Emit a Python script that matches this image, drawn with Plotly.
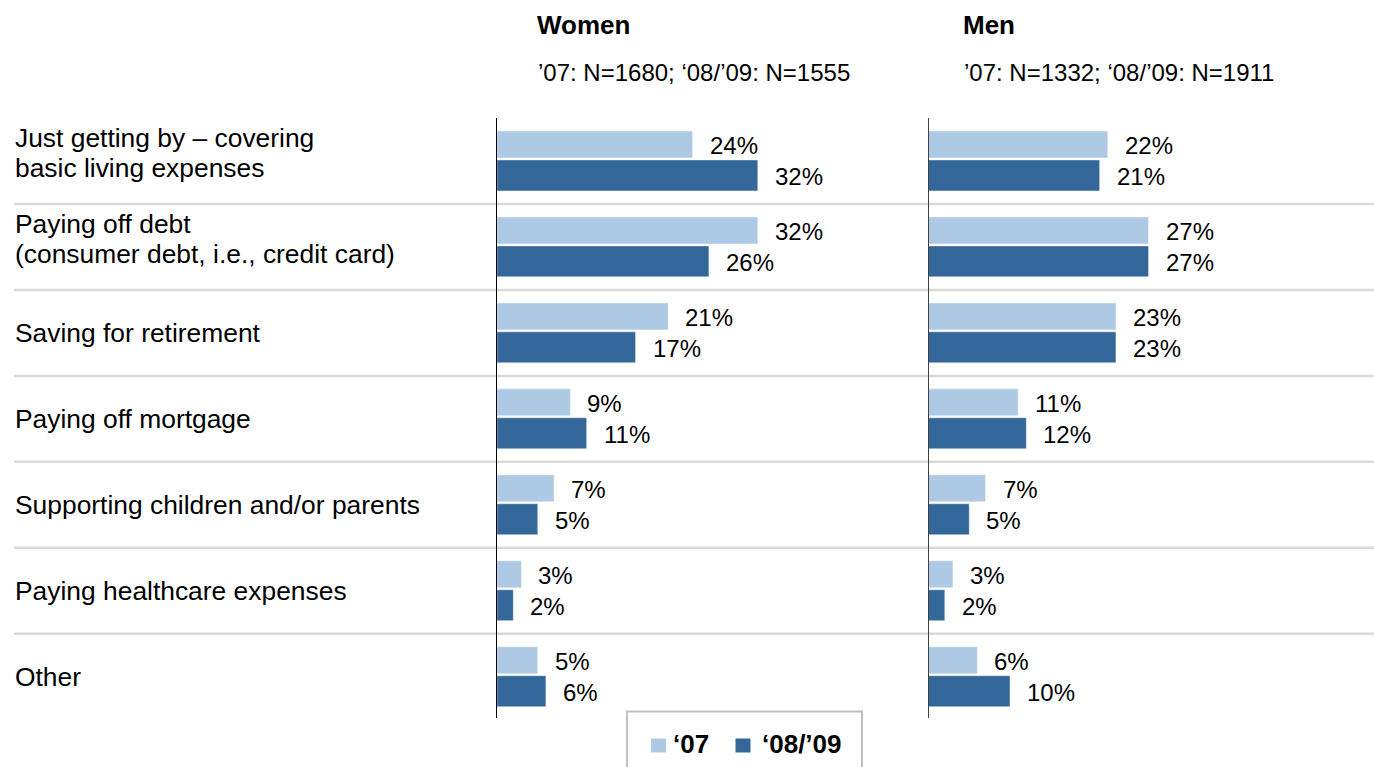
import plotly.graph_objects as go

# ---- data -------------------------------------------------------------
categories = [
    "Just getting by – covering<br>basic living expenses",
    "Paying off debt<br>(consumer debt, i.e., credit card)",
    "Saving for retirement",
    "Paying off mortgage",
    "Supporting children and/or parents",
    "Paying healthcare expenses",
    "Other",
]
series_names = ["‘07", "‘08/’09"]
women_07 = [24, 32, 21, 9, 7, 3, 5]
women_0809 = [32, 26, 17, 11, 5, 2, 6]
men_07 = [22, 27, 23, 11, 7, 3, 6]
men_0809 = [21, 27, 23, 12, 5, 2, 10]
panel_titles = ["Women", "Men"]
panel_notes = ["’07: N=1680; ‘08/’09: N=1555", "’07: N=1332; ‘08/’09: N=1911"]

# ---- styling ----------------------------------------------------------
W, H = 1374, 767
FONT = "Liberation Sans, Arial, Helvetica, sans-serif"
LIGHT = "#aec9e4"
DARK = "#336699"
SEP = "#d9d9d9"
PX_PER_PCT = 8.15
PANEL_W = 400

# bar placement inside each category slot (category units)
BAR_GEOM = [(-0.349, 0.314), (-0.012, 0.36)]  # (offset, width) per series


def fx(p):
    return p / W


def fy(p):
    return 1 - p / H


panels = [
    dict(x0=497, head=537, series=[women_07, women_0809], xa="x", ya="y"),
    dict(x0=928.5, head=963, series=[men_07, men_0809], xa="x2", ya="y2"),
]
colors = [LIGHT, DARK]

fig = go.Figure()
annotations = []
shapes = []

for p in panels:
    for s, vals in enumerate(p["series"]):
        off, wid = BAR_GEOM[s]
        fig.add_trace(go.Bar(
            orientation="h", y=list(range(len(categories))), x=vals,
            offset=off, width=wid, name=series_names[s],
            marker=dict(color=colors[s], line=dict(width=0.8, color="rgba(255,255,255,0.55)")),
            xaxis=p["xa"], yaxis=p["ya"], showlegend=False, hoverinfo="x",
        ))
        for i, v in enumerate(vals):
            annotations.append(dict(
                x=v, y=i + off + wid / 2, xref=p["xa"], yref=p["ya"],
                text=f"{v}%", showarrow=False, xanchor="left", yanchor="middle",
                xshift=17, yshift=-1, borderpad=0, borderwidth=0,
                font=dict(family=FONT, size=24, color="#000000"),
            ))

# category labels, one annotation per text line for tight line spacing
LINE_STEP = 30
for i, cat in enumerate(categories):
    lines = cat.split("<br>")
    n = len(lines)
    lift = 8 if n > 1 else 0
    for k, ln in enumerate(lines):
        annotations.append(dict(
            x=fx(14.5), y=i, xref="paper", yref="y", text=ln, showarrow=False,
            xanchor="left", yanchor="middle", borderpad=0, borderwidth=0,
            yshift=((n - 1) / 2 - k) * LINE_STEP + lift,
            font=dict(family=FONT, size=26.4, color="#000000"),
        ))

# panel headers
for p, title, note in zip(panels, panel_titles, panel_notes):
    annotations.append(dict(
        x=fx(p["head"]), y=fy(24.5), xref="paper", yref="paper", text=f"<b>{title}</b>",
        showarrow=False, xanchor="left", yanchor="middle", borderpad=0, borderwidth=0,
        font=dict(family=FONT, size=26, color="#000000"),
    ))
    annotations.append(dict(
        x=fx(p["head"] + 1), y=fy(72), xref="paper", yref="paper", text=note,
        showarrow=False, xanchor="left", yanchor="middle", borderpad=0, borderwidth=0,
        font=dict(family=FONT, size=24, color="#000000"),
    ))

# row separators
for i in range(len(categories) - 1):
    shapes.append(dict(
        type="line", xref="paper", yref="y", x0=fx(14), x1=1, y0=i + 0.5, y1=i + 0.5,
        line=dict(color=SEP, width=2.5), layer="below",
    ))

# legend box
shapes.append(dict(type="rect", xref="paper", yref="paper",
                   x0=fx(627), x1=fx(862), y0=fy(800), y1=fy(711.5),
                   line=dict(color="#c0c0c0", width=2), fillcolor="white", layer="below"))
legend_items = [(651, 672.5), (735.5, 761.5)]
for (sx, tx), name, col in zip(legend_items, series_names, colors):
    shapes.append(dict(type="rect", xref="paper", yref="paper",
                       x0=fx(sx), x1=fx(sx + 15), y0=fy(752.5), y1=fy(738.5),
                       line=dict(width=0), fillcolor=col))
    annotations.append(dict(
        x=fx(tx), y=fy(744), xref="paper", yref="paper", text=f"<b>{name}</b>",
        showarrow=False, xanchor="left", yanchor="middle", borderpad=0, borderwidth=0,
        font=dict(family=FONT, size=26, color="#000000"),
    ))

ydom = [49 / H, 649 / H]
yrange = [6.48, -0.5]
axis_x = dict(range=[0, PANEL_W / PX_PER_PCT], showgrid=False, zeroline=False,
              showticklabels=False, ticks="", showline=False, fixedrange=True)

fig.update_layout(
    width=W, height=H, margin=dict(l=0, r=0, t=0, b=0),
    paper_bgcolor="white", plot_bgcolor="rgba(0,0,0,0)",
    barmode="overlay", showlegend=False,
    font=dict(family=FONT, color="#000000"),
    xaxis=dict(axis_x, domain=[fx(497), fx(497 + PANEL_W)], anchor="y"),
    xaxis2=dict(axis_x, domain=[fx(928.5), fx(928.5 + PANEL_W)], anchor="y2"),
    yaxis=dict(domain=ydom, range=yrange, anchor="x", showgrid=False, zeroline=False,
               showticklabels=False, ticks="", showline=True, linecolor="#000000",
               linewidth=1.3, fixedrange=True),
    yaxis2=dict(domain=ydom, range=yrange, anchor="x2", showgrid=False, zeroline=False,
                showticklabels=False, ticks="", showline=True, linecolor="#404040",
                linewidth=1.3, fixedrange=True),
    annotations=annotations, shapes=shapes,
)

fig.write_html("out.html", config={"displayModeBar": False})
